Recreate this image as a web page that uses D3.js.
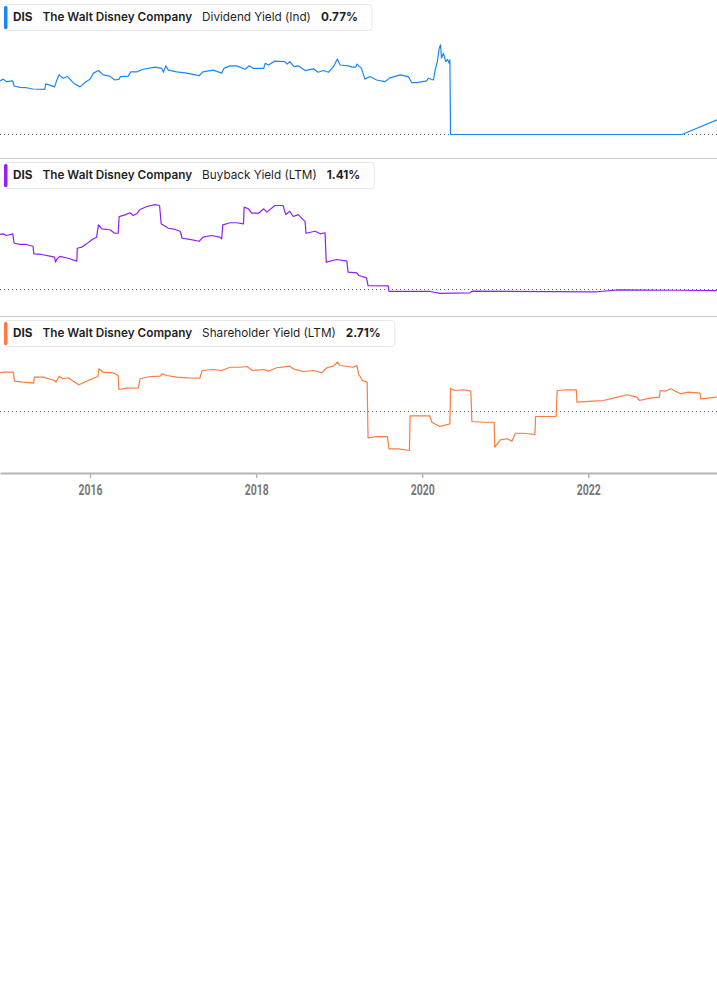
<!doctype html>
<html>
<head>
<meta charset="utf-8">
<style>
  body { margin: 0; background: #fff; }
  .legend text { font-family: Inter, "Noto Sans", sans-serif; font-size: 11.75px; fill: #1f1f1f; }
  .axis text { font-family: Roboto, "Liberation Sans", sans-serif; font-weight: bold; font-size: 14px; fill: #777; }
</style>
<script src="https://cdn.jsdelivr.net/npm/d3@7"></script>
</head>
<body>
<svg width="717" height="1005"></svg>
<script>
var ticker = "DIS"
var company = "The Walt Disney Company"
var metrics = ["Dividend Yield (Ind)", "Buyback Yield (LTM)", "Shareholder Yield (LTM)"]
var latest = ["0.77%", "1.41%", "2.71%"]
var colors = ["#1b87f5", "#9020f5", "#ff7a3d"]
var tickYears = [2016, 2018, 2020, 2022]

// [date, value in %]
var dividendYield = [
  ["2014-12-01",1.25],["2014-12-15",1.29],["2014-12-30",1.23],["2015-01-26",1.25],["2015-02-01",1.13],
  ["2015-02-27",1.10],["2015-03-27",1.09],["2015-04-25",1.06],["2015-06-16",1.05],["2015-06-20",1.18],
  ["2015-07-08",1.15],["2015-07-29",1.11],["2015-08-07",1.25],["2015-08-18",1.39],["2015-09-05",1.31],
  ["2015-09-24",1.35],["2015-10-22",1.19],["2015-11-18",1.11],["2015-12-14",1.23],["2016-01-01",1.29],
  ["2016-01-16",1.43],["2016-02-07",1.49],["2016-02-28",1.39],["2016-03-28",1.36],["2016-04-19",1.27],
  ["2016-05-08",1.29],["2016-05-14",1.35],["2016-06-17",1.36],["2016-06-28",1.46],["2016-07-24",1.46],
  ["2016-08-22",1.52],["2016-10-13",1.57],["2016-11-12",1.54],["2016-11-19",1.45],["2016-11-29",1.60],
  ["2016-12-11",1.50],["2017-01-17",1.46],["2017-03-01",1.43],["2017-04-25",1.37],["2017-05-12",1.46],
  ["2017-06-26",1.50],["2017-08-02",1.43],["2017-08-12",1.54],["2017-09-08",1.60],["2017-10-07",1.60],
  ["2017-11-13",1.52],["2017-12-02",1.60],["2017-12-19",1.54],["2018-02-03",1.54],["2018-02-10",1.66],
  ["2018-02-24",1.62],["2018-03-24",1.71],["2018-05-07",1.70],["2018-05-17",1.64],["2018-05-29",1.70],
  ["2018-06-16",1.58],["2018-07-05",1.60],["2018-08-04",1.49],["2018-09-10",1.53],["2018-10-01",1.45],
  ["2018-10-23",1.49],["2018-11-15",1.45],["2018-12-07",1.58],["2018-12-24",1.76],["2019-01-05",1.62],
  ["2019-02-11",1.60],["2019-02-26",1.57],["2019-03-15",1.57],["2019-03-20",1.64],["2019-04-09",1.54],
  ["2019-04-24",1.29],["2019-05-16",1.35],["2019-06-15",1.27],["2019-07-21",1.23],["2019-08-12",1.32],
  ["2019-09-26",1.39],["2019-11-01",1.35],["2019-11-16",1.21],["2019-12-08",1.21],["2020-01-21",1.25],
  ["2020-01-28",1.31],["2020-02-20",1.27],["2020-02-27",1.50],["2020-03-08",1.70],["2020-03-16",2.01],
  ["2020-03-22",2.09],["2020-03-26",1.78],["2020-04-03",1.89],["2020-04-14",1.70],["2020-04-22",1.75],
  ["2020-04-29",1.66],["2020-05-02",1.74],["2020-05-05",0],["2023-02-17",0],["2023-07-21",0.34]
]

var buybackYield = [
  ["2014-12-01",3.63],["2014-12-15",3.67],["2014-12-30",3.56],["2015-01-26",3.67],["2015-02-01",3.05],
  ["2015-02-27",2.97],["2015-03-27",2.97],["2015-04-25",2.85],["2015-04-29",2.35],["2015-06-02",2.31],
  ["2015-07-08",2.20],["2015-07-29",2.13],["2015-08-02",1.80],["2015-08-07",1.98],["2015-08-21",2.18],
  ["2015-09-27",2.06],["2015-11-04",1.87],["2015-11-06",2.72],["2015-11-25",2.79],["2015-12-17",3.01],
  ["2016-01-09",3.28],["2016-01-30",3.45],["2016-02-07",4.26],["2016-02-22",4.00],["2016-03-28",3.94],
  ["2016-04-19",3.71],["2016-05-04",3.71],["2016-05-08",4.81],["2016-06-03",4.92],["2016-06-25",5.06],
  ["2016-07-09",4.88],["2016-07-24",4.99],["2016-08-08",5.27],["2016-09-07",5.47],["2016-10-13",5.60],
  ["2016-11-02",5.54],["2016-11-09",4.33],["2016-12-11",4.04],["2017-01-10",3.96],["2017-02-01",3.84],
  ["2017-02-09",3.38],["2017-03-15",3.30],["2017-04-25",3.18],["2017-05-12",3.45],["2017-06-19",3.56],
  ["2017-07-25",3.45],["2017-08-02",3.34],["2017-08-07",4.26],["2017-09-08",4.40],["2017-10-07",4.40],
  ["2017-11-06",4.33],["2017-11-09",5.43],["2017-11-28",5.32],["2017-12-12",5.03],["2018-01-11",5.03],
  ["2018-02-03",5.32],["2018-02-17",5.10],["2018-03-24",5.54],["2018-04-29",5.54],["2018-05-11",4.94],
  ["2018-05-29",5.16],["2018-06-13",4.81],["2018-07-05",4.94],["2018-08-04",4.48],["2018-08-08",3.71],
  ["2018-09-17",3.84],["2018-10-09",3.67],["2018-10-31",3.74],["2018-11-05",1.80],["2018-12-21",1.98],
  ["2019-02-04",1.87],["2019-02-09",1.14],["2019-03-20",1.10],["2019-03-29",0.92],["2019-05-01",0.77],
  ["2019-05-08",0.26],["2019-08-05",0.24],["2019-08-08",-0.13],["2020-02-06",-0.13],["2020-03-19",-0.26],
  ["2020-07-29",-0.22],["2020-08-07",-0.11],["2022-02-09",-0.15],["2022-05-13",-0.02],["2023-01-26",-0.05],
  ["2023-07-20",-0.07]
]

var shareholderYield = [
  ["2014-12-01",7.04],["2014-12-15",7.15],["2015-01-28",7.15],["2015-02-03",5.51],["2015-03-12",5.33],
  ["2015-04-28",5.15],["2015-05-01",6.24],["2015-06-09",6.24],["2015-07-29",5.64],["2015-08-04",5.33],
  ["2015-08-18",6.42],["2015-09-05",5.95],["2015-09-27",6.13],["2015-10-26",5.33],["2015-11-13",4.85],
  ["2015-12-17",5.51],["2016-01-16",6.05],["2016-02-05",6.36],["2016-02-09",7.76],["2016-02-28",7.15],
  ["2016-04-12",7.04],["2016-05-04",6.55],["2016-05-07",4.00],["2016-06-10",4.24],["2016-08-01",4.31],
  ["2016-08-08",5.95],["2016-09-21",6.36],["2016-11-05",6.42],["2016-11-12",6.85],["2016-12-04",6.55],
  ["2017-01-17",6.24],["2017-03-01",6.13],["2017-04-28",6.05],["2017-05-08",7.45],["2017-06-26",7.64],
  ["2017-08-02",7.45],["2017-09-08",8.05],["2017-10-22",8.05],["2017-11-21",8.18],["2017-12-17",7.45],
  ["2018-02-03",7.64],["2018-02-24",7.33],["2018-04-01",7.95],["2018-05-29",8.24],["2018-06-13",7.76],
  ["2018-07-26",7.27],["2018-09-10",7.45],["2018-10-16",7.04],["2018-11-08",7.95],["2018-12-07",8.24],
  ["2018-12-24",8.96],["2019-01-05",8.36],["2019-03-03",8.05],["2019-03-20",8.36],["2019-03-28",6.73],
  ["2019-04-14",5.64],["2019-05-04",5.33],["2019-05-08",-4.78],["2019-06-15",-4.55],["2019-08-01",-4.55],
  ["2019-08-08",-6.78],["2019-09-18",-6.78],["2019-11-06",-7.09],["2019-11-09",-0.78],["2020-02-03",-0.78],
  ["2020-02-13",-1.95],["2020-03-19",-2.73],["2020-05-02",-2.24],["2020-05-05",4.24],["2020-05-24",3.82],
  ["2020-06-30",3.95],["2020-08-02",3.69],["2020-08-07",-1.82],["2020-09-27",-1.95],["2020-11-13",-1.95],
  ["2020-11-15",-6.49],["2020-12-10",-5.15],["2021-01-09",-4.96],["2021-01-30",-5.40],["2021-02-14",-3.95],
  ["2021-03-21",-3.95],["2021-05-11",-4.18],["2021-05-14",-0.91],["2021-07-02",-0.91],["2021-08-12",-0.91],
  ["2021-08-17",3.82],["2021-09-29",3.95],["2021-11-09",3.95],["2021-11-12",1.69],["2022-01-24",1.87],
  ["2022-03-08",2.00],["2022-04-21",2.42],["2022-06-19",3.04],["2022-08-02",2.60],["2022-08-14",2.00],
  ["2022-09-30",2.42],["2022-11-10",2.60],["2022-11-13",3.82],["2022-12-05",3.69],["2022-12-30",4.15],
  ["2023-02-10",3.22],["2023-03-16",3.51],["2023-05-07",3.33],["2023-05-11",2.31],["2023-06-20",2.49],
  ["2023-07-20",2.60]
]

var series = [dividendYield, buybackYield, shareholderYield]

var svg = d3.select("svg")
var width = 717
var parse = d3.timeParse("%Y-%m-%d")

var x = d3.scaleTime()
    .domain([parse("2014-12-01"), parse("2023-07-21")])
    .range([0, width])

// panel layout: top of panel, y scale
var panels = [
  { top: 0,   y: d3.scaleLinear().domain([0, 2.4]).range([134.5, 31.5]) },
  { top: 158, y: d3.scaleLinear().domain([0, 6]).range([289.5, 198.5]) },
  { top: 316, y: d3.scaleLinear().domain([-10, 10]).range([466.5, 356.5]) }
]

// separators between panels
svg.selectAll(".sep")
    .data([158, 316])
    .enter().append("line")
    .attr("x1", 0).attr("x2", width)
    .attr("y1", function(d){ return d + 0.5 })
    .attr("y2", function(d){ return d + 0.5 })
    .attr("stroke", "#c8c8c8")

panels.forEach(function(p, i) {
    var g = svg.append("g")

    // zero line
    g.append("line")
        .attr("x1", 0).attr("x2", width)
        .attr("y1", p.y(0)).attr("y2", p.y(0))
        .attr("stroke", "#666")
        .attr("stroke-dasharray", "1,3")

    var line = d3.line()
        .x(function(d){ return x(parse(d[0])) })
        .y(function(d){ return p.y(d[1]) })

    g.append("path")
        .datum(series[i])
        .attr("fill", "none")
        .attr("stroke", colors[i])
        .attr("stroke-width", 1.2)
        .attr("stroke-linejoin", "round")
        .attr("d", line)

    // legend
    var lg = svg.append("g").attr("class", "legend")
        .attr("transform", "translate(0," + p.top + ")")
    var box = lg.append("rect")
        .attr("x", 4.5).attr("y", 4.5)
        .attr("height", 26).attr("rx", 3)
        .attr("fill", "#fff")
        .attr("stroke", "#e8e8e8")
    lg.append("rect")
        .attr("x", 4).attr("y", 6)
        .attr("width", 3.5).attr("height", 23).attr("rx", 1.5)
        .attr("fill", colors[i])

    var parts = [[ticker, 700], [company, 600], [metrics[i], 400], [latest[i], 700]]
    var cx = 13
    parts.forEach(function(pt) {
        var t = lg.append("text")
            .attr("x", cx).attr("y", 21)
            .attr("font-weight", pt[1])
            .text(pt[0])
        cx += t.node().getComputedTextLength() + 10
    })
    box.attr("width", cx - 10 + 14 - 4.5)
})

// x axis
var axis = svg.append("g")
    .attr("class", "axis")
    .attr("transform", "translate(0,473)")
    .call(d3.axisBottom(x)
        .tickValues(tickYears.map(function(yr){ return new Date(yr, 0, 1) }))
        .tickFormat(d3.timeFormat("%Y"))
        .tickSize(5)
        .tickSizeOuter(0))

axis.select(".domain").attr("stroke", "#b5b5b5").attr("stroke-width", 2)
axis.selectAll(".tick line").attr("stroke", "#b5b5b5").attr("stroke-width", 1.5)
axis.selectAll(".tick text")
    .attr("y", 12)
    .attr("textLength", 24)
    .attr("lengthAdjust", "spacingAndGlyphs")
</script>
</body>
</html>
